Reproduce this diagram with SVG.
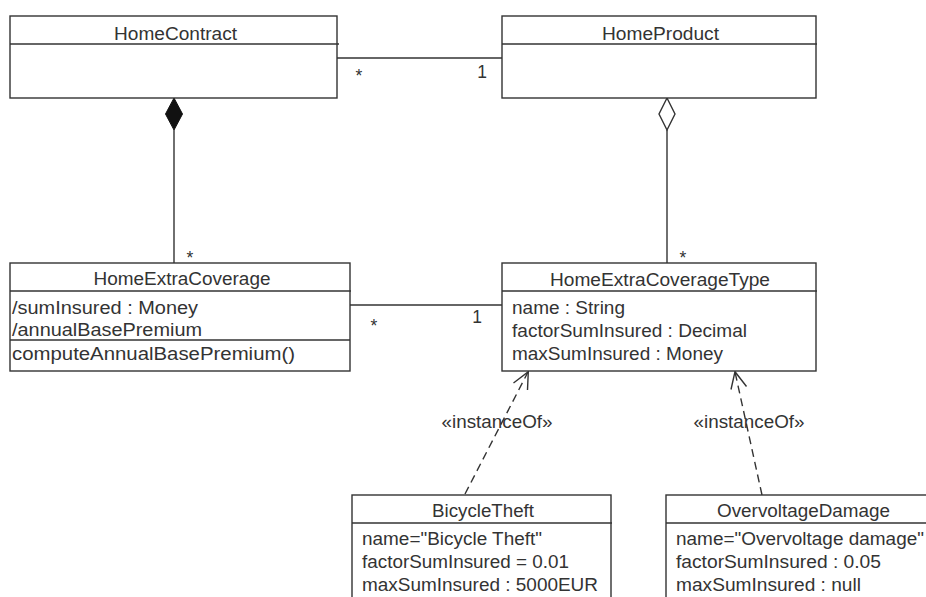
<svg xmlns="http://www.w3.org/2000/svg" width="926" height="597" viewBox="0 0 926 597">
<style>
  .box { fill: #ffffff; stroke: #333333; stroke-width: 1.4; }
  .sep { stroke: #333333; stroke-width: 1.4; fill: none; }
  .t { font-family: "Liberation Sans", Arial, sans-serif; font-size: 17.5px; fill: #333333; }
  .c { text-anchor: middle; }
  .conn { stroke: #333333; stroke-width: 1.4; fill: none; }
  .dash { stroke: #333333; stroke-width: 1.4; fill: none; stroke-dasharray: 8 5; }
  .m { font-family: "Liberation Sans", Arial, sans-serif; font-size: 17.5px; fill: #333333; text-anchor: middle; }
</style>
<rect width="926" height="597" fill="#ffffff"/>

<g id="connectors">
  <!-- HomeContract - HomeProduct -->
  <line class="conn" x1="337" y1="58" x2="502" y2="58"/>
  <text class="m" x="359" y="81.5">*</text>
  <text class="m" x="482" y="78.3">1</text>
  <!-- composition -->
  <line class="conn" x1="174" y1="130" x2="174" y2="263"/>
  <polygon points="174,98 182.5,114 174,130 165.5,114" fill="#111111" stroke="#111111" stroke-width="1"/>
  <text class="m" x="190" y="264">*</text>
  <!-- aggregation -->
  <line class="conn" x1="667" y1="130" x2="667" y2="263"/>
  <polygon points="667,98 675,114 667,130 659,114" fill="#ffffff" stroke="#333333" stroke-width="1.4"/>
  <text class="m" x="683" y="264">*</text>
  <!-- HEC - HECT -->
  <line class="conn" x1="350" y1="305" x2="502" y2="305"/>
  <text class="m" x="374" y="331.5">*</text>
  <text class="m" x="477" y="323">1</text>
  <!-- instanceOf 1 -->
  <line class="dash" x1="465" y1="494" x2="528" y2="372"/>
  <polyline class="conn" points="513.5,383 528.3,371.7 527.5,390"/>
  <text class="t c" x="497" y="428.3" textLength="111" lengthAdjust="spacingAndGlyphs">«instanceOf»</text>
  <!-- instanceOf 2 -->
  <line class="dash" x1="762" y1="495" x2="735" y2="372"/>
  <polyline class="conn" points="731,389.5 735,371.7 746.5,386.5"/>
  <text class="t c" x="749" y="428.3" textLength="111" lengthAdjust="spacingAndGlyphs">«instanceOf»</text>
</g>

<g id="HomeContract">
  <rect class="box" x="10" y="16" width="327" height="82"/>
  <line class="sep" x1="10" y1="44" x2="339" y2="44"/>
  <text class="t c" x="175.5" y="40" textLength="123" lengthAdjust="spacingAndGlyphs">HomeContract</text>
</g>

<g id="HomeProduct">
  <rect class="box" x="502" y="16" width="314" height="82"/>
  <line class="sep" x1="502" y1="44" x2="817" y2="44"/>
  <text class="t c" x="660.5" y="40" textLength="117" lengthAdjust="spacingAndGlyphs">HomeProduct</text>
</g>

<g id="HomeExtraCoverage">
  <rect class="box" x="10" y="263" width="340" height="108"/>
  <line class="sep" x1="10" y1="291" x2="351" y2="291"/>
  <line class="sep" x1="10" y1="340" x2="350" y2="340"/>
  <text class="t c" x="182" y="285" textLength="177" lengthAdjust="spacingAndGlyphs">HomeExtraCoverage</text>
  <text class="t" x="12" y="313.5" textLength="186" lengthAdjust="spacingAndGlyphs">/sumInsured : Money</text>
  <text class="t" x="12" y="336" textLength="190" lengthAdjust="spacingAndGlyphs">/annualBasePremium</text>
  <text class="t" x="12" y="360" textLength="283" lengthAdjust="spacingAndGlyphs">computeAnnualBasePremium()</text>
</g>

<g id="HomeExtraCoverageType">
  <rect class="box" x="502" y="263" width="314" height="108"/>
  <line class="sep" x1="502" y1="291" x2="817" y2="291"/>
  <text class="t c" x="660" y="285.5" textLength="220" lengthAdjust="spacingAndGlyphs">HomeExtraCoverageType</text>
  <text class="t" x="512" y="313.5" textLength="113" lengthAdjust="spacingAndGlyphs">name : String</text>
  <text class="t" x="512" y="336.5" textLength="235" lengthAdjust="spacingAndGlyphs">factorSumInsured : Decimal</text>
  <text class="t" x="512" y="359.5" textLength="211" lengthAdjust="spacingAndGlyphs">maxSumInsured : Money</text>
</g>

<g id="BicycleTheft">
  <rect class="box" x="352" y="495" width="259" height="115"/>
  <line class="sep" x1="352" y1="523" x2="612" y2="523"/>
  <text class="t c" x="483" y="517" textLength="102" lengthAdjust="spacingAndGlyphs">BicycleTheft</text>
  <text class="t" x="362" y="544.5" textLength="180" lengthAdjust="spacingAndGlyphs">name="Bicycle Theft"</text>
  <text class="t" x="362" y="567.5" textLength="207" lengthAdjust="spacingAndGlyphs">factorSumInsured = 0.01</text>
  <text class="t" x="362" y="590.5" textLength="236" lengthAdjust="spacingAndGlyphs">maxSumInsured : 5000EUR</text>
</g>

<g id="OvervoltageDamage">
  <rect class="box" x="666" y="495" width="280" height="115"/>
  <line class="sep" x1="666" y1="523" x2="946" y2="523"/>
  <text class="t c" x="803.5" y="517" textLength="173" lengthAdjust="spacingAndGlyphs">OvervoltageDamage</text>
  <text class="t" x="676" y="544.5" textLength="248" lengthAdjust="spacingAndGlyphs">name="Overvoltage damage"</text>
  <text class="t" x="676" y="567.5" textLength="205" lengthAdjust="spacingAndGlyphs">factorSumInsured : 0.05</text>
  <text class="t" x="676" y="590.5" textLength="185" lengthAdjust="spacingAndGlyphs">maxSumInsured : null</text>
</g>
</svg>
